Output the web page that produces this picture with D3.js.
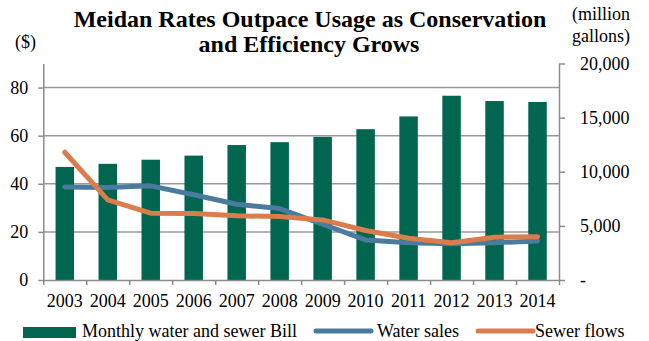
<!DOCTYPE html>
<html>
<head>
<meta charset="utf-8">
<script src="https://cdn.jsdelivr.net/npm/d3@7"></script>
<style>
  body { margin: 0; background: #fff; }
  svg { display: block; font-family: "Liberation Serif", "Times New Roman", serif; }
  .axis path, .axis line { stroke: #8c8c8c; stroke-width: 1.5; }
  .axis text { font-size: 18px; fill: #000; }
</style>
</head>
<body>
<svg id="chart" width="649" height="341"></svg>
<script>
const years = ['2003', '2004', '2005', '2006', '2007', '2008', '2009', '2010', '2011', '2012', '2013', '2014'];
const monthlyBill = [47, 48.3, 50, 51.7, 56.1, 57.3, 59.5, 62.7, 68, 76.6, 74.4, 74];
const waterSales = [8600, 8550, 8700, 7870, 7000, 6600, 5150, 3700, 3450, 3360, 3450, 3600];
const sewerFlows = [11800, 7400, 6170, 6140, 5930, 5860, 5550, 4570, 3860, 3450, 3950, 4000];
const leftTicks = [0, 20, 40, 60, 80];
const rightTicks = [0, 5000, 10000, 15000, 20000];

const colours = { bill: '#006650', water: '#4a7b9d', sewer: '#da7d4c' };
const serif = '"Liberation Serif", "Times New Roman", serif';

const svg = d3.select('#chart');
const plot = { left: 43.3, right: 559, top: 63.5, bottom: 280 };

const x = d3
  .scaleBand()
  .domain(years)
  .range([plot.left, plot.right])
  .paddingInner(0.57)
  .paddingOuter(0.285);
const xEdges = d3.scaleLinear().domain([0, years.length]).range([plot.left, plot.right]);
const yLeft = d3.scaleLinear().domain([0, 90]).range([plot.bottom, plot.top]);
const yRight = d3.scaleLinear().domain([0, 20000]).range([plot.bottom, plot.top]);
const xMid = (d) => x(d) + x.bandwidth() / 2;

// gridlines
svg
  .append('g')
  .selectAll('line')
  .data(leftTicks.filter((d) => d > 0))
  .join('line')
  .attr('x1', plot.left)
  .attr('x2', plot.right)
  .attr('y1', (d) => yLeft(d))
  .attr('y2', (d) => yLeft(d))
  .attr('stroke', '#999')
  .attr('stroke-width', 1.5);

// bars
svg
  .append('g')
  .selectAll('rect')
  .data(monthlyBill)
  .join('rect')
  .attr('x', (d, i) => x(years[i]))
  .attr('y', (d) => yLeft(d))
  .attr('width', x.bandwidth())
  .attr('height', (d) => yLeft(0) - yLeft(d))
  .attr('fill', colours.bill);

// axes
const addAxis = (axis, transform) =>
  svg
    .append('g')
    .attr('class', 'axis')
    .attr('transform', transform)
    .call(axis)
    .attr('font-family', serif)
    .attr('font-size', 18);

addAxis(
  d3.axisLeft(yLeft).tickValues(leftTicks).tickSize(5).tickSizeOuter(0).tickPadding(10),
  'translate(' + plot.left + ',0)'
);

addAxis(
  d3
    .axisRight(yRight)
    .tickValues(rightTicks)
    .tickSize(6)
    .tickSizeOuter(0)
    .tickPadding(15)
    .tickFormat((d) => (d === 0 ? '-' : d3.format(',')(d))),
  'translate(' + plot.right + ',0)'
);

addAxis(
  d3
    .axisBottom(xEdges)
    .tickValues(d3.range(years.length + 1))
    .tickSize(5)
    .tickSizeOuter(0)
    .tickFormat(''),
  'translate(0,' + plot.bottom + ')'
);

addAxis(d3.axisBottom(x).tickSize(0).tickPadding(14), 'translate(0,' + plot.bottom + ')')
  .select('.domain')
  .remove();

// lines
const line = (values) =>
  d3
    .line()
    .x((d, i) => xMid(years[i]))
    .y((d) => yRight(d))(values);

[
  [waterSales, colours.water],
  [sewerFlows, colours.sewer],
].forEach(([values, colour]) => {
  svg
    .append('path')
    .attr('d', line(values))
    .attr('fill', 'none')
    .attr('stroke', colour)
    .attr('stroke-width', 5)
    .attr('stroke-linejoin', 'round')
    .attr('stroke-linecap', 'round');
});

// titles
const title = svg
  .append('text')
  .attr('text-anchor', 'middle')
  .attr('font-weight', 'bold')
  .attr('font-size', 24);
title.append('tspan').attr('x', 310).attr('y', 27).text('Meidan Rates Outpace Usage as Conservation');
title.append('tspan').attr('x', 309).attr('y', 52).text('and Efficiency Grows');

svg.append('text').attr('x', 15).attr('y', 48).attr('font-size', 18).text('($)');

const unit = svg.append('text').attr('font-size', 18);
unit.append('tspan').attr('x', 572).attr('y', 20).text('(million');
unit.append('tspan').attr('x', 572).attr('y', 42).text('gallons)');

// legend
const legend = svg.append('g').attr('font-size', 18);
legend
  .append('rect')
  .attr('x', 23)
  .attr('y', 327)
  .attr('width', 53)
  .attr('height', 11)
  .attr('fill', colours.bill);
legend.append('text').attr('x', 82).attr('y', 337).text('Monthly water and sewer Bill');
[
  [316, 377, colours.water, 'Water sales'],
  [478, 535, colours.sewer, 'Sewer flows'],
].forEach(([lx, tx, colour, label]) => {
  legend
    .append('line')
    .attr('x1', lx)
    .attr('x2', lx + 55)
    .attr('y1', 331)
    .attr('y2', 331)
    .attr('stroke', colour)
    .attr('stroke-width', 5)
    .attr('stroke-linecap', 'round');
  legend.append('text').attr('x', tx).attr('y', 337).text(label);
});
</script>
</body>
</html>
